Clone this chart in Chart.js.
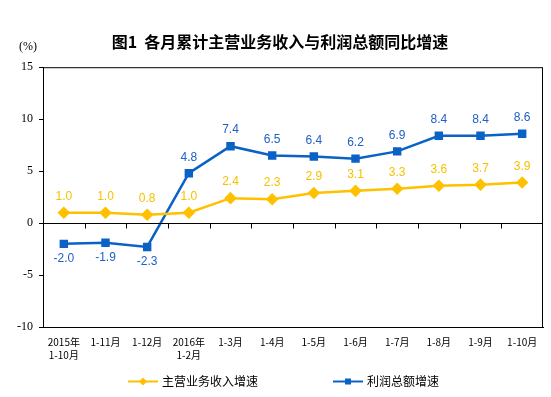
<!DOCTYPE html>
<html>
<head>
<meta charset="utf-8">
<script src="https://cdn.jsdelivr.net/npm/chart.js@4/dist/chart.umd.min.js"></script>
<style>
  html, body { margin: 0; padding: 0; background: #fff; }
  #wrap { width: 551px; height: 397px; position: relative; }
</style>
</head>
<body>
<div id="wrap"><canvas id="growthChart"></canvas></div>
<script>
const months = [
    ['2015年', '1-10月'], '1-11月', '1-12月', ['2016年', '1-2月'], '1-3月', '1-4月',
    '1-5月', '1-6月', '1-7月', '1-8月', '1-9月', '1-10月'
];
const revenueGrowth = [1.0, 1.0, 0.8, 1.0, 2.4, 2.3, 2.9, 3.1, 3.3, 3.6, 3.7, 3.9];
const profitGrowth = [-2.0, -1.9, -2.3, 4.8, 7.4, 6.5, 6.4, 6.2, 6.9, 8.4, 8.4, 8.6];
const yTicks = [-10, -5, 0, 5, 10, 15];

const YELLOW = '#ffc000';
const BLUE = '#0a62c6';

// box, zero line, value labels, unit and the legend
const frameAndLabels = {
    id: 'frameAndLabels',
    afterDatasetsDraw(chart) {
        const { ctx, chartArea: a, scales: { x, y } } = chart;
        ctx.save();
        ctx.strokeStyle = '#000';
        ctx.lineWidth = 1;
        ctx.strokeRect(a.left + 0.5, a.top + 0.5, a.right - a.left - 1, a.bottom - a.top);

        const y0 = Math.round(y.getPixelForValue(0)) + 0.5;
        ctx.beginPath();
        ctx.moveTo(a.left, y0); ctx.lineTo(a.right, y0);
        for (let i = 0; i < months.length - 1; i++) {
            const bx = Math.round((x.getPixelForValue(i) + x.getPixelForValue(i + 1)) / 2) + 0.5;
            ctx.moveTo(bx, y0); ctx.lineTo(bx, y0 + 5);
        }
        ctx.stroke();

        ctx.font = '12px "Liberation Sans", Arial, sans-serif';
        ctx.textAlign = 'center';
        ctx.textBaseline = 'middle';
        chart.data.datasets.forEach((ds, di) => {
            const meta = chart.getDatasetMeta(di);
            ctx.fillStyle = ds.labelColor;
            meta.data.forEach((pt, i) => {
                const v = ds.data[i];
                ctx.fillText(v.toFixed(1), pt.x, pt.y + (v < 0 ? 15 : -16));
            });
        });

        ctx.fillStyle = '#000';
        ctx.font = '12px "Liberation Serif", serif';
        ctx.fillText('(%)', 28, 47);

        // legend: line + marker + text
        const ly = 381.5;
        const starts = [128, 333];
        ctx.font = '12px "Noto Sans CJK SC", sans-serif';
        ctx.textAlign = 'left';
        chart.data.datasets.forEach((ds, di) => {
            const lx = starts[di];
            ctx.strokeStyle = ds.borderColor;
            ctx.fillStyle = ds.borderColor;
            ctx.lineWidth = 2;
            ctx.beginPath(); ctx.moveTo(lx, ly); ctx.lineTo(lx + 30, ly); ctx.stroke();
            ctx.beginPath();
            if (di === 0) {
                ctx.moveTo(lx + 15, ly - 4); ctx.lineTo(lx + 19, ly); ctx.lineTo(lx + 15, ly + 4); ctx.lineTo(lx + 11, ly);
            } else {
                ctx.rect(lx + 12, ly - 3, 6, 6);
            }
            ctx.closePath(); ctx.fill();
            ctx.fillStyle = '#000';
            ctx.fillText(ds.label, lx + 34, ly);
        });
        ctx.restore();
    }
};

new Chart(document.getElementById('growthChart'), {
    type: 'line',
    data: {
        labels: months,
        datasets: [{
            label: '主营业务收入增速',
            data: revenueGrowth,
            borderColor: YELLOW,
            backgroundColor: YELLOW,
            labelColor: '#f7c100',
            borderWidth: 2.5,
            pointStyle: 'rectRot',
            pointRadius: 4.5,
            pointHoverRadius: 4.5,
            tension: 0
        }, {
            label: '利润总额增速',
            data: profitGrowth,
            borderColor: BLUE,
            backgroundColor: BLUE,
            labelColor: '#1f5fc8',
            borderWidth: 2.5,
            pointStyle: 'rect',
            pointRadius: 4.2,
            pointHoverRadius: 4.2,
            tension: 0
        }]
    },
    options: {
        responsive: true,
        maintainAspectRatio: false,
        animation: false,
        layout: { padding: { left: 17, right: 8, bottom: 34 } },
        scales: {
            x: {
                offset: true,
                grid: { display: false, drawTicks: false },
                border: { display: true, color: '#000' },
                ticks: {
                    color: '#000',
                    padding: 9,
                    maxRotation: 0,
                    autoSkip: false,
                    font: { size: 10, family: '"Noto Sans CJK SC", sans-serif', lineHeight: 1.3 }
                },
                afterFit: s => { s.height = 36; }
            },
            y: {
                min: -10,
                max: 15,
                afterBuildTicks: s => { s.ticks = yTicks.map(v => ({ value: v })); },
                grid: { drawOnChartArea: false, drawTicks: true, tickLength: 4, color: '#000' },
                border: { display: true, color: '#000' },
                ticks: {
                    color: '#000',
                    padding: 6,
                    font: { size: 12, family: '"Liberation Serif", serif' }
                },
                afterFit: s => { s.width = 26; }
            }
        },
        plugins: {
            title: {
                display: true,
                text: '图1  各月累计主营业务收入与利润总额同比增速',
                color: '#000',
                font: { size: 16, weight: 'bold', family: '"Noto Sans CJK SC", sans-serif', lineHeight: 1.2 },
                padding: { top: 32, bottom: 16 }
            },
            legend: { display: false },
            tooltip: { enabled: false }
        }
    },
    plugins: [frameAndLabels]
});
</script>
</body>
</html>
